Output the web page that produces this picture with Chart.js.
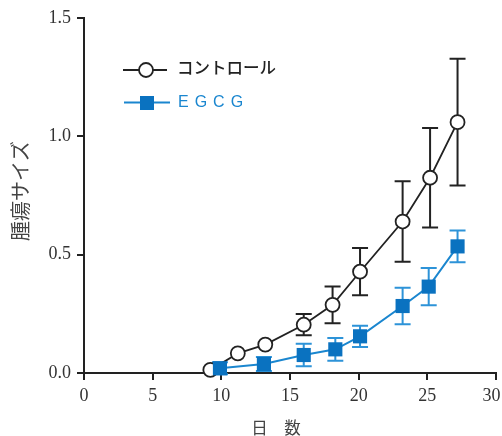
<!DOCTYPE html>
<html><head><meta charset="utf-8">
<script src="https://cdn.jsdelivr.net/npm/chart.js@4.4.1/dist/chart.umd.min.js"></script>
<style>html,body{margin:0;padding:0;background:#fff;}#wrap{width:502px;height:436px;position:relative;}</style>
</head><body><div id="wrap"><canvas id="c" width="502" height="436"></canvas></div>
<script>
// ---- data ----
const seriesNames = ['コントロール', 'EGCG'];
const controlDays = [9.2, 11.2, 13.2, 16.0, 18.1, 20.1, 23.2, 25.2, 27.2];
const controlMean = [0.013, 0.083, 0.12, 0.204, 0.288, 0.428, 0.64, 0.825, 1.06];
const controlErr  = [0, 0, 0, 0.045, 0.078, 0.1, 0.17, 0.21, 0.268];
const egcgDays = [9.9, 13.1, 16.0, 18.3, 20.1, 23.2, 25.1, 27.2];
const egcgMean = [0.02, 0.038, 0.076, 0.1, 0.155, 0.283, 0.365, 0.535];
const egcgErr  = [0.025, 0.03, 0.048, 0.048, 0.045, 0.077, 0.079, 0.067];
const xTitle = '日　数';
const yTitle = '腫瘍サイズ';

const BLACK = '#222222';
const BLUE_LINE = '#1a86cf';
const BLUE_FILL = '#0a72c0';
const BLUE_ERR = '#2d93d8';

function pts(xs, ys){ return xs.map((x,i)=>({x:x, y:ys[i]})); }

const errorBars = {
  id: 'errorBars',
  beforeDatasetsDraw(chart){
    const ctx = chart.ctx, ys = chart.scales.y;
    chart.data.datasets.forEach((ds, di) => {
      const meta = chart.getDatasetMeta(di);
      ctx.save();
      ctx.strokeStyle = ds.errColor; ctx.lineWidth = 2;
      meta.data.forEach((el, j) => {
        const e = ds.err[j]; if (!e) return;
        const m = ds.data[j].y;
        const top = ys.getPixelForValue(m + e), bot = ys.getPixelForValue(m - e);
        const x = el.x, cap = 8;
        ctx.beginPath();
        ctx.moveTo(x, top); ctx.lineTo(x, bot);
        ctx.moveTo(x - cap, top); ctx.lineTo(x + cap, top);
        ctx.moveTo(x - cap, bot); ctx.lineTo(x + cap, bot);
        ctx.stroke();
      });
      ctx.restore();
    });
  }
};

const extras = {
  id: 'extras',
  afterDraw(chart){
    const ctx = chart.ctx;
    // axis titles
    ctx.save();
    ctx.fillStyle = '#444';
    ctx.textAlign = 'center'; ctx.textBaseline = 'middle';
    ctx.font = '20px "Noto Sans CJK JP"';
    ctx.translate(20, 191); ctx.rotate(-Math.PI/2);
    ctx.fillText(yTitle, 0, 0);
    ctx.restore();
    ctx.save();
    ctx.fillStyle = '#444';
    ctx.textAlign = 'center'; ctx.textBaseline = 'middle';
    ctx.font = '16.5px "Noto Sans CJK JP"';
    ctx.fillText(xTitle, 276, 428);
    ctx.restore();

    // legend
    const c = chart.data.datasets[1], b = chart.data.datasets[0];
    ctx.save();
    // control row
    ctx.strokeStyle = c.borderColor; ctx.lineWidth = 1.8;
    ctx.beginPath(); ctx.moveTo(123, 70); ctx.lineTo(167, 70); ctx.stroke();
    ctx.beginPath(); ctx.arc(146, 70, 7, 0, Math.PI*2);
    ctx.fillStyle = '#fff'; ctx.fill(); ctx.stroke();
    ctx.fillStyle = '#222'; ctx.textAlign = 'left'; ctx.textBaseline = 'middle';
    ctx.font = '500 16.5px "Noto Sans CJK JP"';
    ctx.fillText(c.label, 177, 68);
    // EGCG row
    ctx.strokeStyle = b.borderColor; ctx.lineWidth = 2;
    ctx.beginPath(); ctx.moveTo(124, 102.5); ctx.lineTo(170, 102.5); ctx.stroke();
    ctx.fillStyle = b.pointBackgroundColor;
    ctx.fillRect(140, 96, 14, 14);
    ctx.fillStyle = BLUE_LINE;
    ctx.font = '16px "Liberation Sans"';
    try { ctx.letterSpacing = '6px'; } catch(e) {}
    ctx.fillText(b.label, 178, 103);
    ctx.restore();
  }
};

new Chart(document.getElementById('c'), {
  type: 'line',
  data: {
    datasets: [
      {
        label: seriesNames[1], data: pts(egcgDays, egcgMean), err: egcgErr, errColor: BLUE_ERR,
        borderColor: BLUE_LINE, borderWidth: 2, pointStyle: 'rect', pointRadius: 10,
        pointBackgroundColor: BLUE_FILL, pointBorderColor: BLUE_FILL, pointBorderWidth: 0,
        order: 0, clip: false, tension: 0
      },
      {
        label: seriesNames[0], data: pts(controlDays, controlMean), err: controlErr, errColor: BLACK,
        borderColor: BLACK, borderWidth: 1.8, pointStyle: 'circle', pointRadius: 7,
        pointBackgroundColor: '#fff', pointBorderColor: BLACK, pointBorderWidth: 1.8,
        order: 1, clip: false, tension: 0
      }
    ]
  },
  options: {
    responsive: false, animation: false, devicePixelRatio: 1,
    layout: { autoPadding: false, padding: { top: 18, right: 6, left: 0, bottom: 0 } },
    plugins: { legend: { display: false }, tooltip: { enabled: false } },
    scales: {
      x: {
        type: 'linear', min: 0, max: 30,
        ticks: { stepSize: 5, color: '#333', padding: 5, font: { family: '"Liberation Serif"', size: 18 },
                 callback: v => (v === 30 ? v + '\u2007' : String(v)) },
        grid: { drawOnChartArea: false, drawTicks: true, tickLength: 7, color: BLACK, lineWidth: 2 },
        border: { display: true, color: BLACK, width: 2 },
        afterFit(s){ s.height = 63; s.paddingLeft = 0; s.paddingRight = 0; }
      },
      y: {
        min: 0, max: 1.5,
        ticks: { stepSize: 0.5, color: '#333', padding: 6, font: { family: '"Liberation Serif"', size: 18 },
                 callback: v => Number(v).toFixed(1) },
        grid: { drawOnChartArea: false, drawTicks: true, tickLength: 7, color: BLACK, lineWidth: 2 },
        border: { display: true, color: BLACK, width: 2 },
        afterFit(s){ s.width = 84; s.paddingTop = 0; s.paddingBottom = 0; }
      }
    }
  },
  plugins: [errorBars, extras]
});
</script>
</body></html>
